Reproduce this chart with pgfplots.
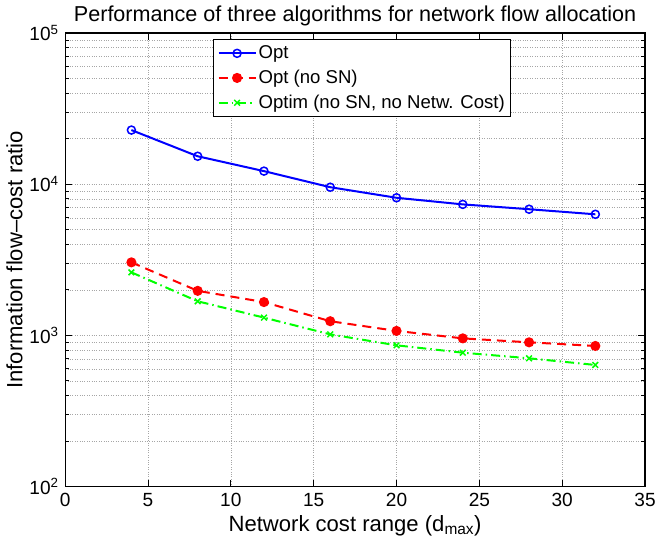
\documentclass[border=0pt]{standalone}
\usepackage{pgfplots}
\pgfplotsset{compat=1.18}
\usepackage{fontspec}
\setmainfont{Liberation Sans}
\begin{document}
\fontsize{19}{22}\selectfont
\begin{tikzpicture}
\begin{axis}[
    ymode=log,
    width=578pt, height=452pt,
    scale only axis,
    xmin=0, xmax=35, ymin=100, ymax=100000,
    xtick={0,5,...,35},
    ytick={100,1000,10000,100000},
    yticklabels={10\textsuperscript{2},10\textsuperscript{3},10\textsuperscript{4},10\textsuperscript{5}},
    /pgf/number format/assume math mode=true,
    tick label style={font=\fontsize{19}{22}\selectfont},
    label style={font=\fontsize{22}{26}\selectfont},
    title style={font=\fontsize{21.5}{25}\selectfont, yshift=-6pt},
    tick align=inside,
    tick style={black, thick},
    major tick length=7pt,
    minor tick length=4pt,
    axis line style={black, line width=1.2pt},
    grid=both,
    major grid style={gray!70, dotted, thin},
    minor grid style={gray!70, dotted, thin},
    title={Performance of three algorithms for network flow allocation},
    xlabel={Network cost range (d\textsubscript{max})},
    ylabel={Information flow--cost ratio},
    ylabel style={yshift=-6pt},
    xlabel style={yshift=4pt},
    legend style={at={(0.255,0.987)}, anchor=north west, draw=black, line width=1pt,
        font=\fontsize{18.5}{22}\selectfont, cells={anchor=west}, inner sep=4pt, row sep=4.5pt},
    legend cell align=left,
    legend image code/.code={\draw[mark repeat=2, mark phase=2, #1] plot coordinates {(0cm,0cm) (0.65cm,0cm) (1.3cm,0cm)};},
]
\addplot[blue, line width=2pt, mark=o, mark size=4pt, mark options={solid, line width=1.5pt}] coordinates {
    (4,22800) (8,15300) (12,12200) (16,9550) (20,8130) (24,7350) (28,6830) (32,6320)
};
\addlegendentry{Opt}
\addplot[red, line width=2pt, dash pattern=on 9pt off 6pt, mark=*, mark size=4pt, mark options={solid}] coordinates {
    (4,3040) (8,1970) (12,1660) (16,1240) (20,1070) (24,955) (28,899) (32,851)
};
\addlegendentry{Opt (no SN)}
\addplot[green, line width=2pt, dash pattern=on 9pt off 4pt on 1.5pt off 4pt, mark=x, mark size=4pt, mark options={solid, line width=1.5pt}] coordinates {
    (4,2610) (8,1680) (12,1310) (16,1015) (20,859) (24,768) (28,705) (32,637)
};
\addlegendentry{Optim (no SN, no Netw. Cost)}
\end{axis}
\end{tikzpicture}
\end{document}
